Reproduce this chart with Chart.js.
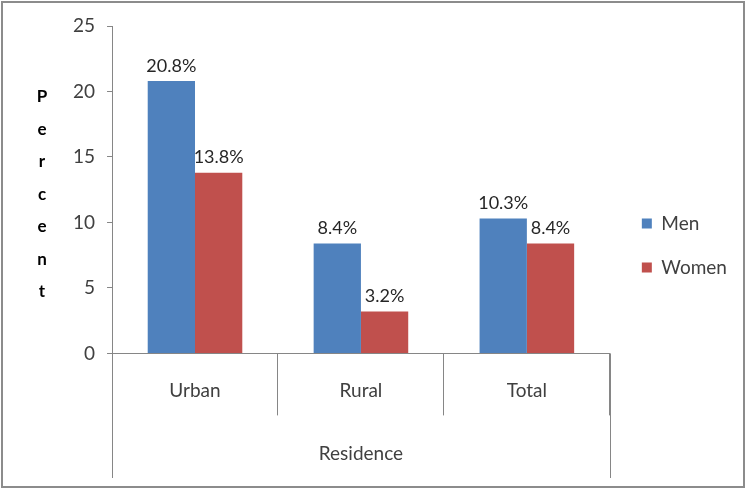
<!DOCTYPE html>
<html>
<head>
<meta charset="utf-8">
<script src="https://cdn.jsdelivr.net/npm/chart.js@4/dist/chart.umd.min.js"></script>
<style>
  body { margin: 0; background: #fff; }
  canvas { display: block; }
</style>
</head>
<body>
<canvas id="grab" width="746" height="489"></canvas>
<script>
const categories = ["Urban", "Rural", "Total"];
const menValues = [20.8, 8.4, 10.3];
const womenValues = [13.8, 3.2, 8.4];
const yTicks = [0, 5, 10, 15, 20, 25];
const yTitle = "Percent";
const xTitle = "Residence";

const axisColor = "#868686";
const textColor = "#404040";
const fontFamily = "Lato, 'Open Sans', sans-serif";

// frame round the whole picture
const framePlugin = {
    id: "frame",
    beforeDraw: (chart) => {
        const ctx = chart.ctx;
        ctx.save();
        ctx.fillStyle = "#fff";
        ctx.fillRect(0, 0, chart.width, chart.height);
        ctx.strokeStyle = "#8c8c8c";
        ctx.lineWidth = 2;
        ctx.strokeRect(2, 2, chart.width - 4, chart.height - 4);
        ctx.restore();
    }
};

// value labels, outer group lines, stacked y title
const extrasPlugin = {
    id: "extras",
    afterDraw: (chart) => {
        const ctx = chart.ctx;
        const area = chart.chartArea;
        ctx.save();

        ctx.fillStyle = "#262626";
        ctx.font = "18px " + fontFamily;
        ctx.textAlign = "center";
        ctx.textBaseline = "middle";
        chart.data.datasets.forEach((ds, i) => {
            chart.getDatasetMeta(i).data.forEach((bar, j) => {
                ctx.fillText(ds.data[j].toFixed(1) + "%", bar.x, bar.y - 15);
            });
        });

        ctx.strokeStyle = axisColor;
        ctx.lineWidth = 1;
        ctx.beginPath();
        ctx.moveTo(Math.round(area.left) + 0.5, area.bottom);
        ctx.lineTo(Math.round(area.left) + 0.5, 478);
        ctx.moveTo(Math.round(area.right) + 0.5, area.bottom);
        ctx.lineTo(Math.round(area.right) + 0.5, 478);
        ctx.stroke();

        ctx.fillStyle = "#000";
        ctx.font = "bold 17px " + fontFamily;
        const letters = yTitle.split("");
        letters.forEach((ch, k) => {
            ctx.fillText(ch, 42, 97 + k * 32.5);
        });
        ctx.restore();
    }
};

const grph = document.querySelector("#grab");

const man = new Chart(grph, {
    type: "bar",
    data: {
        labels: categories,
        datasets: [
            {
                label: "Men",
                data: menValues,
                backgroundColor: "#4F81BD"
            },
            {
                label: "Women",
                data: womenValues,
                backgroundColor: "#C0504D"
            }
        ]
    },
    options: {
        responsive: false,
        animation: false,
        layout: {
            padding: { left: 61, right: 18, top: 26, bottom: 24 }
        },
        datasets: {
            bar: { categoryPercentage: 0.57, barPercentage: 1.0 }
        },
        plugins: {
            tooltip: { enabled: false },
            legend: {
                position: "right",
                labels: {
                    boxWidth: 10,
                    boxHeight: 10,
                    padding: 25,
                    color: textColor,
                    font: { family: fontFamily, size: 19 }
                }
            }
        },
        scales: {
            x: {
                offset: true,
                grid: {
                    display: true,
                    offset: true,
                    drawOnChartArea: false,
                    tickLength: 62,
                    color: axisColor
                },
                border: { color: axisColor },
                ticks: {
                    padding: -36,
                    color: textColor,
                    font: { family: fontFamily, size: 19 }
                },
                title: {
                    display: true,
                    text: xTitle,
                    color: textColor,
                    padding: { top: 76, bottom: 0 },
                    font: { family: fontFamily, size: 19 }
                }
            },
            y: {
                min: 0,
                max: 25,
                afterBuildTicks: (scale) => {
                    scale.ticks = yTicks.map(v => ({ value: v }));
                },
                grid: {
                    drawOnChartArea: false,
                    tickLength: 5,
                    color: axisColor
                },
                border: { color: axisColor },
                ticks: {
                    padding: 12,
                    color: textColor,
                    font: { family: fontFamily, size: 19 }
                }
            },
            // empty spacer between plot and legend
            gap: {
                position: "right",
                grid: { display: false },
                border: { display: false },
                ticks: { display: false },
                afterFit: (scale) => { scale.width = 7; }
            }
        }
    },
    plugins: [framePlugin, extrasPlugin]
});
</script>
</body>
</html>
